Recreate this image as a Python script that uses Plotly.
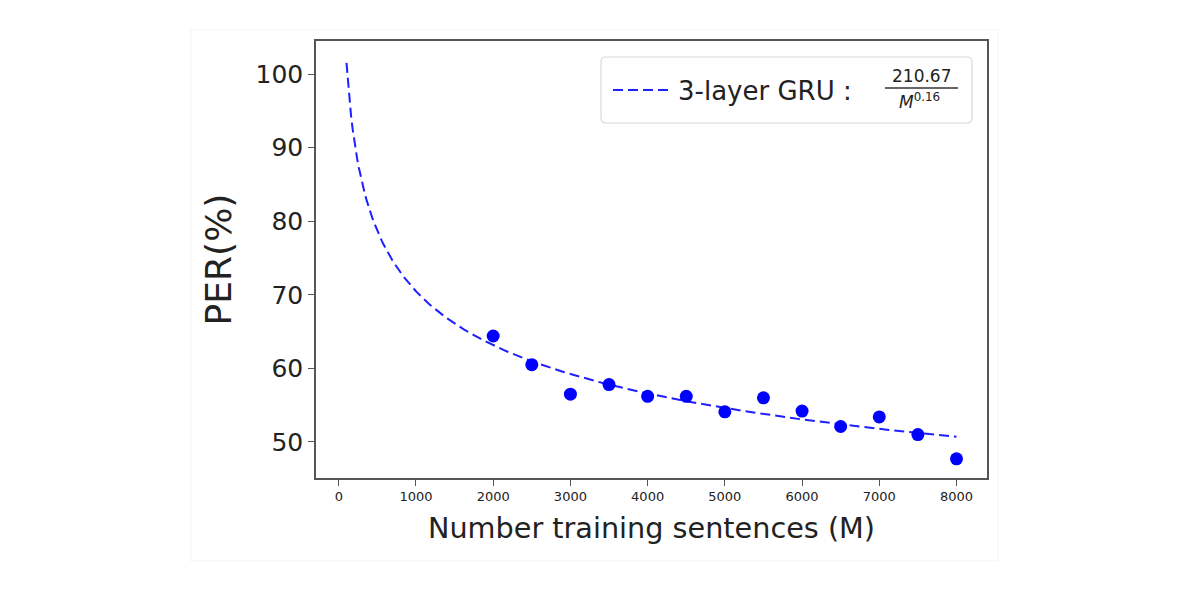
import numpy as np
import plotly.graph_objects as go

# ---- data ----
sentences = [2000, 2500, 3000, 3500, 4000, 4500, 5000, 5500, 6000, 6500, 7000, 7500, 8000]
per_values = [64.4, 60.5, 56.5, 57.8, 56.2, 56.2, 54.1, 56.0, 54.2, 52.1, 53.4, 51.0, 47.7]
fit_coef = 210.67
fit_exp = 0.1585   # shown rounded as 0.16 in the legend
fit_m_start = 100
fit_m_end = 8000
x_ticks = [0, 1000, 2000, 3000, 4000, 5000, 6000, 7000, 8000]
y_ticks = [50, 60, 70, 80, 90, 100]
legend_label = "3-layer GRU&nbsp;:"
fit_numerator = "210.67"
fit_denominator = "<i>M</i><sup>0.16</sup>"

FONT = "DejaVu Sans"
OFF = 8  # page body margin
W, H = 1184, 574
ML, MR, MT, MB = 308, 205, 33, 104
PW, PH = W - ML - MR, H - MT - MB


def px_x(p):  # page pixel -> paper
    return (p - OFF - ML) / PW


def px_y(p):
    return (H - MB - (p - OFF)) / PH


m_fit = np.linspace(fit_m_start, fit_m_end, 400)
per_fit = fit_coef / m_fit ** fit_exp

fig = go.Figure()
fig.add_trace(go.Scatter(
    x=m_fit, y=per_fit, mode="lines",
    line=dict(color="#1f1fff", width=2, dash="10px,5px"),
    name=legend_label, showlegend=True,
))
fig.add_trace(go.Scatter(
    x=sentences, y=per_values, mode="markers",
    marker=dict(color="#0000ff", size=13),
    showlegend=False,
))

axis_common = dict(
    showgrid=False, zeroline=False, showline=True, mirror=True,
    linecolor="#555555", linewidth=1.5, ticks="outside", ticklen=6,
    tickcolor="#555555", tickwidth=1,
)
fig.update_xaxes(
    range=[-295, 8395], tickvals=x_ticks, ticktext=[str(v) for v in x_ticks],
    tickfont=dict(family=FONT, size=13, color="#222222"),
    title=dict(text="Number training sentences (M)",
               font=dict(family=FONT, size=28.7, color="#222222"), standoff=15),
    **axis_common,
)
fig.update_yaxes(
    range=[45.1, 104.5], tickvals=y_ticks, ticktext=[str(v) for v in y_ticks],
    tickfont=dict(family=FONT, size=25, color="#222222"),
    title=dict(text="PER(%)", font=dict(family=FONT, size=36, color="#222222"), standoff=13),
    **axis_common,
)

# legend box (rounded)
lx0, lx1, ly0, ly1 = px_x(601), px_x(972), px_y(123), px_y(57)
rx, ry = 5 / PW, 5 / PH
path = (f"M {lx0+rx},{ly0} L {lx1-rx},{ly0} Q {lx1},{ly0} {lx1},{ly0+ry} "
        f"L {lx1},{ly1-ry} Q {lx1},{ly1} {lx1-rx},{ly1} L {lx0+rx},{ly1} "
        f"Q {lx0},{ly1} {lx0},{ly1-ry} L {lx0},{ly0+ry} Q {lx0},{ly0} {lx0+rx},{ly0} Z")
shapes = [
    dict(type="path", xref="paper", yref="paper", path=path,
         line=dict(color="#d9d9d9", width=1.2), fillcolor="rgba(255,255,255,0.85)", layer="above"),
    dict(type="line", xref="paper", yref="paper",
         x0=px_x(885), x1=px_x(958), y0=px_y(88), y1=px_y(88),
         line=dict(color="#333333", width=1.3)),
    # faint figure border
    dict(type="rect", xref="paper", yref="paper",
         x0=px_x(191), x1=px_x(998), y0=px_y(561), y1=px_y(30),
         line=dict(color="#f3f3f3", width=1), layer="below"),
]

annotations = [
    dict(text=fit_numerator, xref="paper", yref="paper", x=px_x(921), y=px_y(76),
         showarrow=False, xanchor="center", yanchor="middle",
         font=dict(family=FONT, size=17, color="#222222")),
    dict(text=fit_denominator, xref="paper", yref="paper", x=px_x(919), y=px_y(101),
         showarrow=False, xanchor="center", yanchor="middle",
         font=dict(family=FONT, size=17, color="#222222")),
]

fig.update_layout(
    width=W, height=H,
    margin=dict(l=ML, r=MR, t=MT, b=MB),
    paper_bgcolor="white", plot_bgcolor="white",
    shapes=shapes, annotations=annotations,
    legend=dict(x=px_x(608), y=px_y(90), xanchor="left", yanchor="middle",
                bgcolor="rgba(0,0,0,0)", borderwidth=0, itemwidth=60,
                font=dict(family=FONT, size=26, color="#222222")),
)

fig.write_html("out.html")
